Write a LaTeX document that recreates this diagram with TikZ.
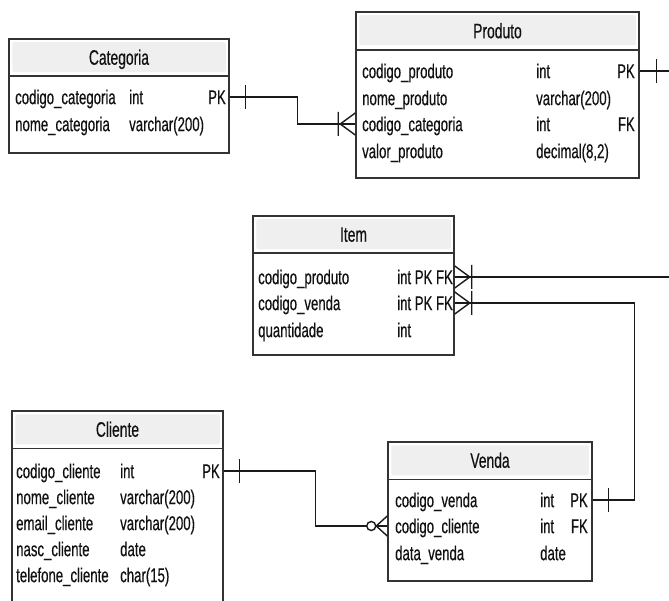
\documentclass[tikz,border=0pt]{standalone}
\usepackage{fontspec}
\setmainfont[FakeStretch=0.66,FakeBold=0.4]{Liberation Sans}
\usetikzlibrary{calc}
\definecolor{bordercol}{HTML}{333333}
\definecolor{hdrcol}{HTML}{EFEFEF}
\definecolor{txtcol}{HTML}{111111}
\definecolor{linecol}{HTML}{1A1A1A}
\begin{document}
\begin{tikzpicture}[x=1pt,y=-1pt,
 tbl/.style={draw=bordercol, line width=1.5pt, fill=white, inner sep=0pt, rectangle},
 hdr/.style={fill=hdrcol, rounded corners=1.5pt},
 sep/.style={draw=bordercol, line width=1.5pt},
 rowtxt/.style={inner sep=0pt, anchor=west, text height=14.3pt, text depth=0pt, font=\fontsize{20pt}{20pt}\selectfont, text=txtcol},
 keytxt/.style={rowtxt, anchor=east},
 ttl/.style={inner sep=0pt, anchor=center, text height=15pt, text depth=0pt, font=\fontsize{21pt}{21pt}\selectfont, text=txtcol},
 conn/.style={draw=linecol, line width=1.4pt},
 onebar/.pic={\draw[conn] (0,-12) -- (0,12);},
 manyone/.pic={\draw[conn] (-15,0) -- (0,-11) (-15,0) -- (0,11) (-17,-12) -- (-17,12);},
 zeromany/.pic={\draw[conn] (-11,0) -- (0,-10) (-11,0) -- (0,10); \draw[conn, fill=white] (-16,0) circle [radius=4.5pt];}
]
\useasboundingbox (0,0) rectangle (669,601);
\clip (0,0) rectangle (669,601);

% ---------- Categoria ----------
\node[tbl, minimum width=220pt, minimum height=114pt] (cat) at (119,96) {};
\fill[hdr] ([xshift=4pt,yshift=-4pt]cat.north west) rectangle ([xshift=-4pt,yshift=-34pt]cat.north east);
\draw[sep] ([yshift=-38pt]cat.north west) -- ([yshift=-38pt]cat.north east);
\node[ttl] (catT) at ($(cat.north)+(0,19)$) {Categoria};
\node[rowtxt] (catN1) at (15,97) {codigo\_categoria};
\node[rowtxt] (catY1) at (129,97) {int};
\node[keytxt] (catK1) at (226,97) {PK};
\node[rowtxt] (catN2) at (15,124) {nome\_categoria};
\node[rowtxt] (catY2) at (129,124) {varchar(200)};

% ---------- Produto ----------
\node[tbl, minimum width=283pt, minimum height=166pt] (prod) at (497.5,95) {};
\fill[hdr] ([xshift=4pt,yshift=-4pt]prod.north west) rectangle ([xshift=-4pt,yshift=-34pt]prod.north east);
\draw[sep] ([yshift=-39pt]prod.north west) -- ([yshift=-39pt]prod.north east);
\node[ttl] (prodT) at ($(prod.north)+(0,19.5)$) {Produto};
\node[rowtxt] (prodN1) at (362,71) {codigo\_produto};
\node[rowtxt] (prodY1) at (536,71) {int};
\node[keytxt] (prodK1) at (635,71) {PK};
\node[rowtxt] (prodN2) at (362,98) {nome\_produto};
\node[rowtxt] (prodY2) at (536,98) {varchar(200)};
\node[rowtxt] (prodN3) at (362,124) {codigo\_categoria};
\node[rowtxt] (prodY3) at (536,124) {int};
\node[keytxt] (prodK3) at (635,124) {FK};
\node[rowtxt] (prodN4) at (362,151) {valor\_produto};
\node[rowtxt] (prodY4) at (536,151) {decimal(8,2)};

% ---------- Item ----------
\node[tbl, minimum width=201pt, minimum height=139pt] (item) at (353.5,285.5) {};
\fill[hdr] ([xshift=4pt,yshift=-4pt]item.north west) rectangle ([xshift=-4pt,yshift=-34pt]item.north east);
\draw[sep] ([yshift=-38pt]item.north west) -- ([yshift=-38pt]item.north east);
\node[ttl] (itemT) at ($(item.north)+(0,19)$) {Item};
\node[rowtxt] (itemN1) at (258,277) {codigo\_produto};
\node[rowtxt] (itemY1) at (397,277) {int PK FK};
\node[rowtxt] (itemN2) at (258,303) {codigo\_venda};
\node[rowtxt] (itemY2) at (397,303) {int PK FK};
\node[rowtxt] (itemN3) at (258,330) {quantidade};
\node[rowtxt] (itemY3) at (397,330) {int};

% ---------- Cliente ----------
\node[tbl, minimum width=211pt, minimum height=209pt] (cli) at (117.5,515.5) {};
\fill[hdr] ([xshift=4pt,yshift=-4pt]cli.north west) rectangle ([xshift=-4pt,yshift=-34pt]cli.north east);
\draw[sep] ([yshift=-38pt]cli.north west) -- ([yshift=-38pt]cli.north east);
\node[ttl] (cliT) at ($(cli.north)+(0,19)$) {Cliente};
\node[rowtxt] (cliN1) at (16,471) {codigo\_cliente};
\node[rowtxt] (cliY1) at (120,471) {int};
\node[keytxt] (cliK1) at (220,471) {PK};
\node[rowtxt] (cliN2) at (16,497) {nome\_cliente};
\node[rowtxt] (cliY2) at (120,497) {varchar(200)};
\node[rowtxt] (cliN3) at (16,523) {email\_cliente};
\node[rowtxt] (cliY3) at (120,523) {varchar(200)};
\node[rowtxt] (cliN4) at (16,549) {nasc\_cliente};
\node[rowtxt] (cliY4) at (120,549) {date};
\node[rowtxt] (cliN5) at (16,575) {telefone\_cliente};
\node[rowtxt] (cliY5) at (120,575) {char(15)};

% ---------- Venda ----------
\node[tbl, minimum width=204pt, minimum height=139pt] (venda) at (490,511.5) {};
\fill[hdr] ([xshift=4pt,yshift=-4pt]venda.north west) rectangle ([xshift=-4pt,yshift=-34pt]venda.north east);
\draw[sep] ([yshift=-38pt]venda.north west) -- ([yshift=-38pt]venda.north east);
\node[ttl] (vendaT) at ($(venda.north)+(0,19)$) {Venda};
\node[rowtxt] (vendaN1) at (395,500) {codigo\_venda};
\node[rowtxt] (vendaY1) at (540,500) {int};
\node[keytxt] (vendaK1) at (588,500) {PK};
\node[rowtxt] (vendaN2) at (395,526) {codigo\_cliente};
\node[rowtxt] (vendaY2) at (540,526) {int};
\node[keytxt] (vendaK2) at (588,526) {FK};
\node[rowtxt] (vendaN3) at (395,553) {data\_venda};
\node[rowtxt] (vendaY3) at (540,553) {date};

% ---------- Connectors ----------
% Categoria -> Produto
\draw[conn] (cat.east |- catK1) -- ++(68,0) |- (prod.west |- prodK3);
\pic at ($(cat.east |- catK1)+(16,0)$) {onebar};
\pic at (prod.west |- prodK3) {manyone};

% Produto -> Item (route leaves the picture on the right)
\draw[conn] (prod.east |- prodK1) -- ++(60,0) |- (item.east |- itemY1);
\pic at ($(prod.east |- prodK1)+(17,0)$) {onebar};
\pic[xscale=-1] at (item.east |- itemY1) {manyone};

% Venda -> Item
\draw[conn] (item.east |- itemY2) -- ++(180,0) |- (venda.east |- vendaK1);
\pic[xscale=-1] at (item.east |- itemY2) {manyone};
\pic at ($(venda.east |- vendaK1)+(16,0)$) {onebar};

% Cliente -> Venda
\draw[conn] (cli.east |- cliK1) -- ++(92,0) |- (venda.west |- vendaK2);
\pic at ($(cli.east |- cliK1)+(16,0)$) {onebar};
\pic at (venda.west |- vendaK2) {zeromany};
\end{tikzpicture}
\end{document}
